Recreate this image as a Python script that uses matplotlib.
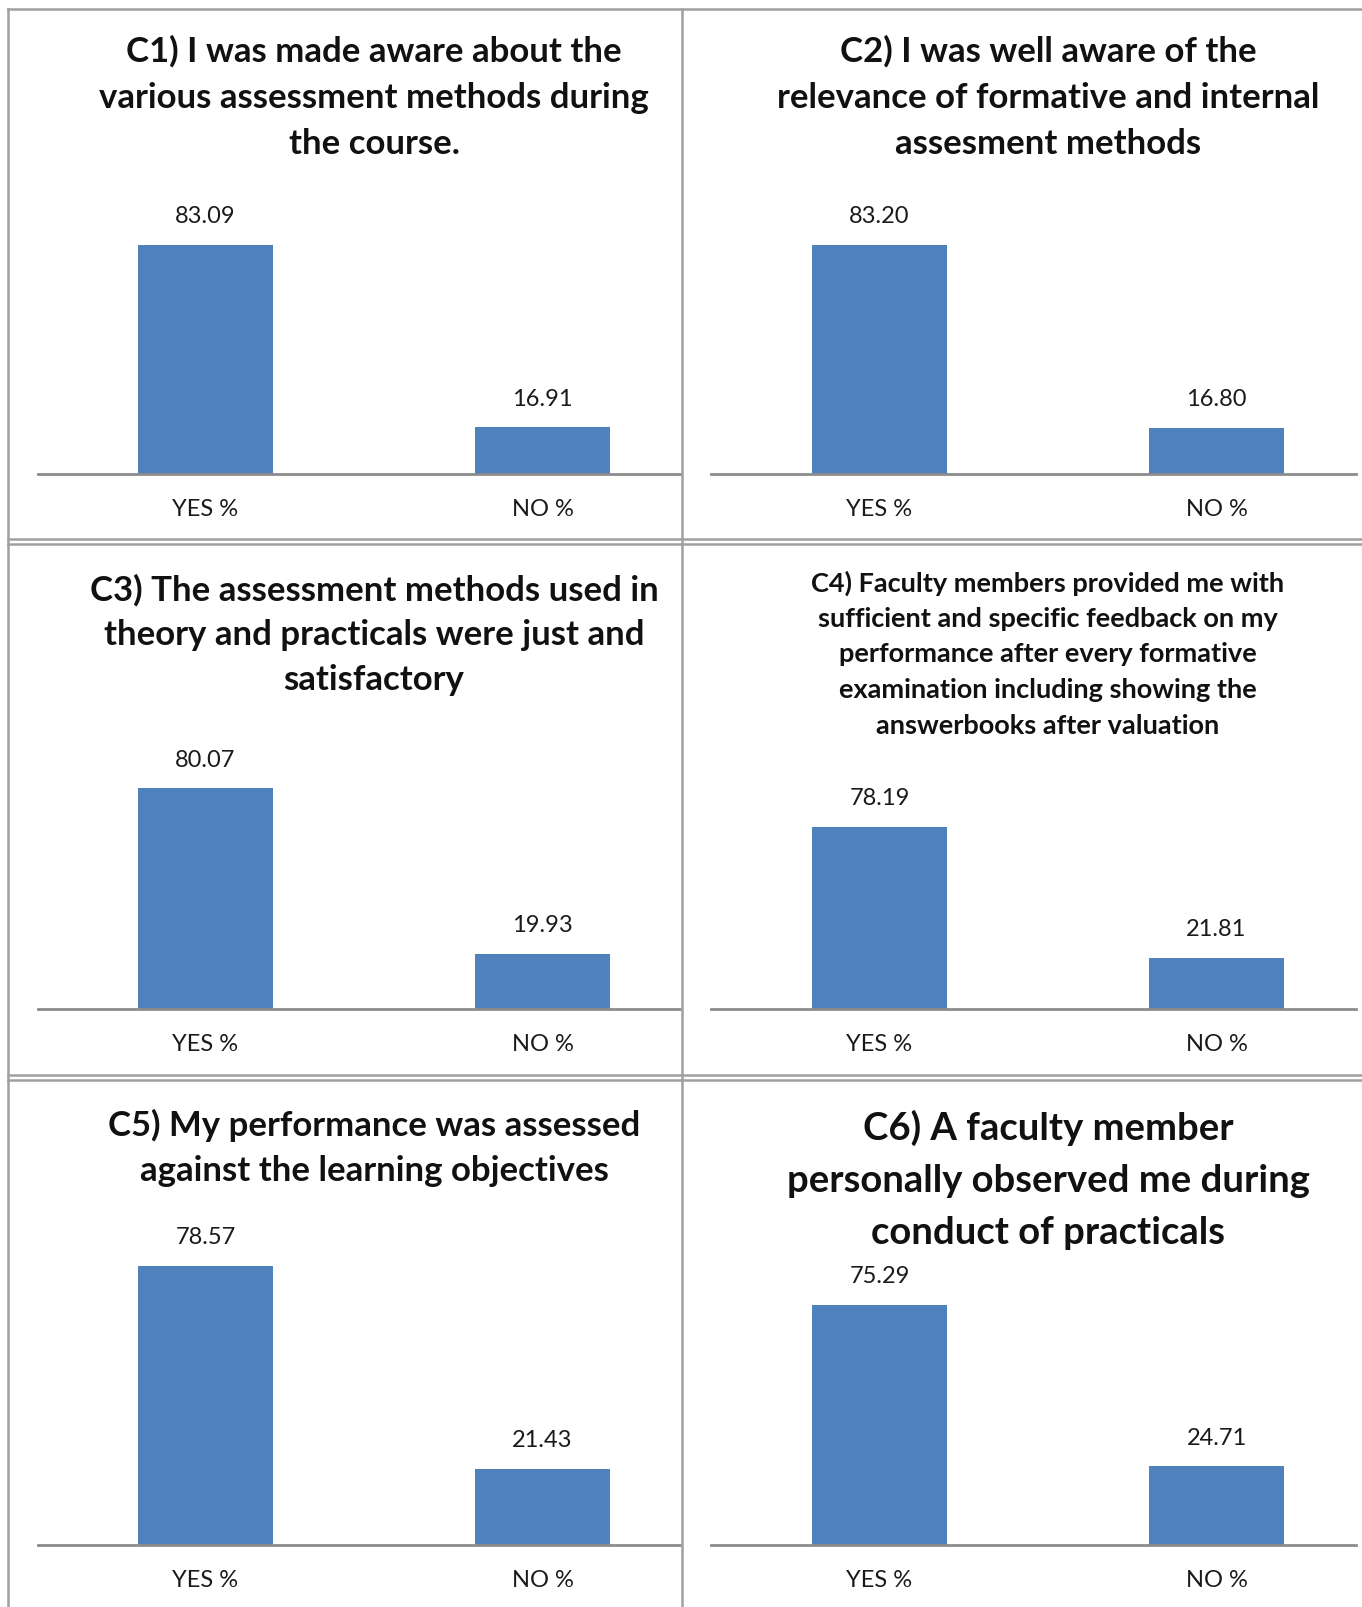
import matplotlib
matplotlib.use("Agg")
import matplotlib.pyplot as plt
from matplotlib.lines import Line2D

# ================= DATA =================
categories = ["YES %", "NO %"]
yes_pct = [83.09, 83.20, 80.07, 78.19, 78.57, 75.29]
no_pct = [16.91, 16.80, 19.93, 21.81, 21.43, 24.71]

titles = [
    ["C1) I was made aware about the", "various assessment methods during", "the course."],
    ["C2) I was well aware of the", "relevance of formative and internal", "assesment methods"],
    ["C3) The assessment methods used in", "theory and practicals were just and", "satisfactory"],
    ["C4) Faculty members provided me with", "sufficient and specific feedback on my",
     "performance after every formative", "examination including showing the",
     "answerbooks after valuation"],
    ["C5) My performance was assessed", "against the learning objectives"],
    ["C6) A faculty member", "personally observed me during", "conduct of practicals"],
]

# ================= LAYOUT (pixels) =================
W, H = 1362, 1608
BAR_COLOR = "#4F81BD"
AXIS_COLOR = "#8C8C8C"
BORDER_COLOR = "#A0A0A0"
FONT = "Lato"

# left, right, top, baseline of each plot area
plot_boxes = [
    (38, 680, 227, 475),
    (711, 1356, 227, 475),
    (38, 680, 762, 1010),
    (711, 1356, 800, 1010),
    (38, 680, 1226, 1546),
    (711, 1356, 1259, 1546),
]
# x of the title centre, y of each title line, title font size
title_x = [374, 1048, 374, 1048, 374, 1048]
title_y = [
    [51, 98, 144],
    [51, 98, 144],
    [590, 635, 680],
    [583, 619, 654, 690, 726],
    [1125, 1171],
    [1128, 1181, 1233],
]
title_size = [25, 25, 25, 19.5, 25, 27.5]
yes_center = [205.5, 879.5, 205.5, 879.5, 205.5, 879.5]
step = 337.0
ymax = 90


def fx(x):
    return x / W


def fy(y):
    return 1 - y / H


fig = plt.figure(figsize=(W / 100, H / 100), dpi=100)
fig.patch.set_facecolor("white")

# ================= PANEL BORDERS =================
border_lines = [
    ((8, 1362), (10, 10)),
    ((8, 1362), (540, 540)),
    ((8, 1362), (545, 545)),
    ((8, 1362), (1076, 1076)),
    ((8, 1362), (1081, 1081)),
    ((8, 8), (10, 1608)),
    ((682, 682), (10, 1608)),
]
for xs, ys in border_lines:
    fig.add_artist(Line2D([fx(x) for x in xs], [fy(y) for y in ys],
                          color=BORDER_COLOR, linewidth=1.8))

# ================= CHARTS =================
for i in range(6):
    left, right, top, base = plot_boxes[i]
    ax = fig.add_axes([fx(left), fy(base), (right - left) / W, (base - top) / H])
    c = yes_center[i]
    ax.set_xlim(-(c - left) / step, (right - c) / step)
    ax.set_ylim(0, ymax)

    vals = [yes_pct[i], no_pct[i]]
    ax.bar([0, 1], vals, width=135 / step, color=BAR_COLOR)

    for j, v in enumerate(vals):
        ax.annotate(f"{v:.2f}", xy=(j, v), xytext=(0, 21), textcoords="offset points",
                    ha="center", va="center", fontsize=17, family=FONT, color="#1a1a1a")
        ax.annotate(categories[j], xy=(j, 0), xycoords=("data", "axes fraction"),
                    xytext=(0, -24.5), textcoords="offset points",
                    ha="center", va="center", fontsize=17, family=FONT, color="#1a1a1a")

    for s in ["top", "right", "left"]:
        ax.spines[s].set_visible(False)
    ax.spines["bottom"].set_color(AXIS_COLOR)
    ax.spines["bottom"].set_linewidth(2)
    ax.set_xticks([])
    ax.set_yticks([])
    ax.patch.set_alpha(0)

    for k, line in enumerate(titles[i]):
        fig.text(fx(title_x[i]), fy(title_y[i][k]), line, ha="center", va="center",
                 fontsize=title_size[i], fontweight="bold", family=FONT, color="#111111")

fig.savefig("out.png", dpi=100)
